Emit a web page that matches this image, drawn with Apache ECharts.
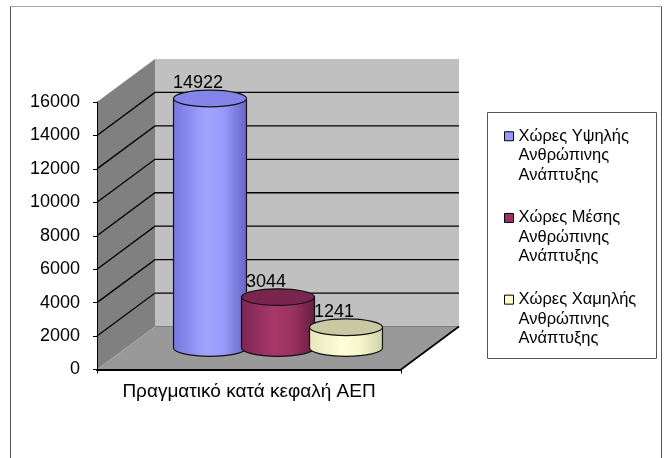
<!DOCTYPE html>
<html><head><meta charset="utf-8">
<script src="https://cdn.jsdelivr.net/npm/echarts@6/dist/echarts.min.js"></script>
<style>html,body{margin:0;padding:0;background:#fff}#c{width:664px;height:458px}</style>
</head><body><div id="c"></div>
<script>
const categories = ['Πραγματικό κατά κεφαλή ΑΕΠ'];
const seriesNames = [
  'Χώρες Υψηλής\nΑνθρώπινης\nΑνάπτυξης',
  'Χώρες Μέσης\nΑνθρώπινης\nΑνάπτυξης',
  'Χώρες Χαμηλής\nΑνθρώπινης\nΑνάπτυξης'
];
const values = [14922, 3044, 1241];
const yTicks = [0, 2000, 4000, 6000, 8000, 10000, 12000, 14000, 16000];

const FONT = '"Liberation Sans", Arial, sans-serif';
const DX = 58, DY = -43;
const legendColors = ['#9999ff', '#993366', '#ffffcc'];
const bodyStops = [
  [['#7676e0', 0], ['#a4a4ff', 0.45], ['#9898f8', 0.7], ['#6464c8', 1]],
  [['#7c2650', 0], ['#a8386c', 0.45], ['#9a325f', 0.7], ['#661c3e', 1]],
  [['#e6e6bc', 0], ['#ffffd8', 0.45], ['#f6f6cc', 0.7], ['#cfcfa6', 1]]
];
const topColors = ['#8484ea', '#7a2550', '#c9c9a3'];
const yMax = yTicks[yTicks.length - 1];

function renderWalls(params, api) {
  const cs = params.coordSys;
  const v = api.value(1);
  const y = api.coord([0, v])[1];
  const x0 = cs.x, x1 = cs.x + cs.width;
  if (v === 0) {
    const yT = api.coord([0, yMax])[1];
    return { type: 'group', children: [
      { type: 'polygon', shape: { points: [[x0 + DX, yT + DY], [x1 + DX, yT + DY], [x1 + DX, y + DY], [x0 + DX, y + DY]] }, style: { fill: '#c0c0c0' } },
      { type: 'polygon', shape: { points: [[x0, y], [x0 + DX, y + DY], [x0 + DX, yT + DY], [x0, yT]] }, style: { fill: '#808080' } },
      { type: 'polygon', shape: { points: [[x0, y], [x0 + DX, y + DY], [x1 + DX, y + DY], [x1, y]] }, style: { fill: '#999999' } },
      { type: 'line', shape: { x1: x0 + DX, y1: y + DY, x2: x1 + DX, y2: y + DY }, style: { stroke: '#808080', lineWidth: 1 } },
      { type: 'line', shape: { x1: x1, y1: y, x2: x1 + DX, y2: y + DY }, style: { stroke: '#000', lineWidth: 1.6 } }
    ] };
  }
  if (v >= yMax) return null;
  return { type: 'polyline', shape: { points: [[x0, y], [x0 + DX, y + DY], [x1 + DX, y + DY]] }, style: { stroke: '#000', fill: null, lineWidth: 1.3 } };
}

function makeCylRender(i) {
  return function (params, api) {
    const v = api.value(1);
    const base = api.coord([0, 0]);
    const top = api.coord([0, v]);
    const band = api.size([1, 0])[0];
    const cx = base[0] + DX / 2 + (i - 1) * band * 0.2237;
    const rx = band * 0.12, ry = 8.3;
    const yb = base[1] + DY / 2, yt = top[1] + DY / 2;
    const xl = cx - rx, xr = cx + rx;
    const path = 'M' + xl + ' ' + yt + ' L' + xl + ' ' + yb + ' A' + rx + ' ' + ry + ' 0 0 0 ' + xr + ' ' + yb + ' L' + xr + ' ' + yt + ' Z';
    return { type: 'group', children: [
      { type: 'path', shape: { pathData: path }, style: {
        fill: { type: 'linear', x: 0, y: 0, x2: 1, y2: 0, colorStops: bodyStops[i].map(s => ({ offset: s[1], color: s[0] })) },
        stroke: '#111', lineWidth: 1.2 } },
      { type: 'ellipse', shape: { cx: cx, cy: yt, rx: rx, ry: ry }, style: { fill: topColors[i], stroke: '#111', lineWidth: 1.2 } },
      { type: 'text', style: { text: String(values[i]), x: cx - 12, y: yt - 15, fill: '#000', fontSize: 18, fontFamily: FONT, align: 'center', verticalAlign: 'middle' } }
    ] };
  };
}

const series = [{
  type: 'custom', name: 'walls', clip: false, z: 1, silent: true,
  data: yTicks.map(v => [0, v]), encode: { x: 0, y: 1 }, renderItem: renderWalls
}];
seriesNames.forEach((n, i) => {
  series.push({
    type: 'custom', name: n, clip: false, z: 10,
    itemStyle: { color: legendColors[i] },
    data: [[0, values[i]]], encode: { x: 0, y: 1 }, renderItem: makeCylRender(i)
  });
});

const chart = echarts.init(document.getElementById('c'), null, { renderer: 'canvas' });
chart.setOption({
  animation: false,
  backgroundColor: '#fff',
  textStyle: { fontFamily: FONT },
  grid: { left: 97, top: 102, width: 304, height: 267.5, containLabel: false },
  xAxis: {
    type: 'category', data: categories, z: 20,
    axisLine: { lineStyle: { color: '#000', width: 2 } },
    axisTick: { show: true, length: 4, lineStyle: { color: '#000' } },
    axisLabel: { fontSize: 19, color: '#000', margin: 13, fontFamily: FONT },
    splitLine: { show: false }
  },
  yAxis: {
    type: 'value', min: 0, max: yMax, interval: 2000, z: 20,
    axisLine: { show: true, lineStyle: { color: '#000', width: 1 } },
    axisTick: { show: true, length: 4, lineStyle: { color: '#000' } },
    axisLabel: { fontSize: 18, color: '#000', margin: 17, fontFamily: FONT, formatter: v => String(v) },
    splitLine: { show: false }
  },
  legend: {
    orient: 'vertical', left: 504, top: 87.5, padding: 0, itemWidth: 9, itemHeight: 9, itemGap: -15.8,
    icon: 'rect', selectedMode: false, data: seriesNames, align: 'left',
    formatter: n => '\n\n' + n,
    itemStyle: { borderColor: '#000', borderWidth: 1 },
    textStyle: { fontSize: 16.5, lineHeight: 19.5, color: '#000', fontFamily: FONT, align: 'left' }
  },
  graphic: [
    { type: 'line', shape: { x1: 10.5, y1: 6.5, x2: 661.5, y2: 6.5 }, style: { stroke: '#a8a8a8', lineWidth: 1 } },
    { type: 'line', shape: { x1: 10.5, y1: 6.5, x2: 10.5, y2: 470 }, style: { stroke: '#555', lineWidth: 1 } },
    { type: 'line', shape: { x1: 661.5, y1: 6.5, x2: 661.5, y2: 470 }, style: { stroke: '#555', lineWidth: 1 } },
    { type: 'rect', shape: { x: 487.5, y: 112.5, width: 169, height: 246 }, style: { fill: null, stroke: '#555', lineWidth: 1 } }
  ],
  series: series
});
</script></body></html>
